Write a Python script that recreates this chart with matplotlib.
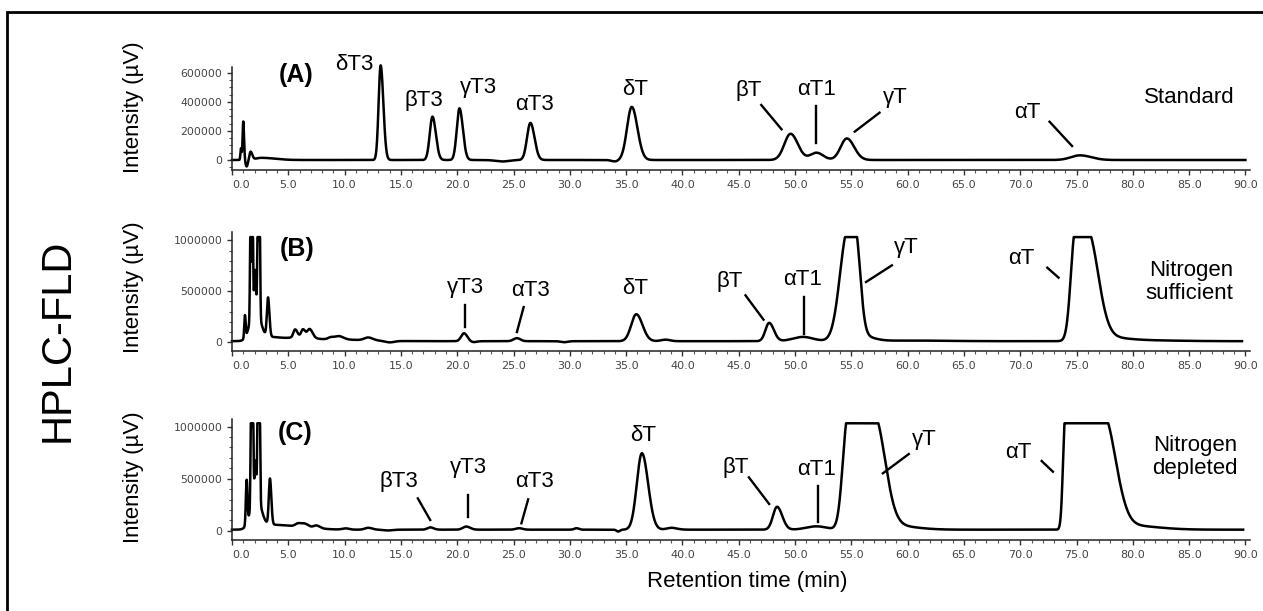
import numpy as np
import matplotlib.pyplot as plt
from matplotlib.patches import Rectangle
from matplotlib.ticker import MultipleLocator, FixedLocator

plt.rcParams['font.family'] = ['Liberation Sans', 'DejaVu Sans']

# ============ Data: peak table per chromatogram ============
# (rt_start, rt_end, height, sigma_left, sigma_right); rt_end > rt_start => flat (saturated) top
peaks_a = [
    (0.8, 0.8, 80000, 0.05, 0.05), (1.0, 1.0, 265000, 0.06, 0.07),
    (1.3, 1.3, -45000, 0.1, 0.1), (1.65, 1.65, 55000, 0.1, 0.15),
    (2.6, 2.6, 15000, 0.5, 1.2), (24.0, 24.0, -10000, 0.6, 0.6),
    (34.0, 34.0, -10000, 0.3, 0.3),
    (13.2, 13.2, 650000, 0.18, 0.24),   # dT3
    (17.8, 17.8, 298000, 0.24, 0.3),    # bT3
    (20.2, 20.2, 355000, 0.24, 0.3),    # gT3
    (26.5, 26.5, 255000, 0.3, 0.36),    # aT3
    (35.5, 35.5, 365000, 0.42, 0.5),    # dT
    (49.6, 49.6, 180000, 0.55, 0.65),   # bT
    (51.9, 51.9, 50000, 0.55, 0.6),     # aT1
    (54.6, 54.6, 148000, 0.55, 0.65),   # gT
    (75.3, 75.3, 32000, 0.8, 1.0),      # aT
]
peaks_b = [
    (1.15, 1.15, 220000, 0.06, 0.06), (2.05, 2.05, 330000, 0.42, 0.42),
    (1.65, 1.65, 1100000, 0.05, 0.05), (1.82, 1.82, 1100000, 0.05, 0.05),
    (2.3, 2.3, 1100000, 0.05, 0.05), (2.45, 2.45, 1100000, 0.05, 0.05),
    (2.05, 2.05, 350000, 0.07, 0.07), (3.2, 3.2, 380000, 0.1, 0.12),
    (3.0, 3.0, 40000, 0.8, 1.5), (5.6, 5.6, 75000, 0.15, 0.2),
    (6.3, 6.3, 70000, 0.15, 0.2), (6.9, 6.9, 80000, 0.2, 0.25),
    (6.3, 6.3, 30000, 0.8, 0.8), (8.8, 8.8, 22000, 0.25, 0.3),
    (9.5, 9.5, 32000, 0.3, 0.4), (12.1, 12.1, 28000, 0.35, 0.4),
    (8.5, 8.5, 18000, 3.0, 3.0), (14.0, 14.0, -15000, 0.4, 0.4),
    (20.6, 20.6, 78000, 0.25, 0.3),     # gT3
    (21.4, 21.4, -10000, 0.3, 0.3),
    (25.3, 25.3, 30000, 0.3, 0.3),      # aT3
    (29.5, 29.5, -10000, 0.3, 0.3),
    (35.9, 35.9, 265000, 0.45, 0.55),   # dT
    (38.5, 38.5, 15000, 0.4, 0.4),
    (47.7, 47.7, 180000, 0.33, 0.42),   # bT
    (50.7, 50.7, 42000, 0.9, 0.9),      # aT1
    (54.7, 55.3, 1100000, 0.7, 0.45),   # gT
    (55.9, 55.9, 50000, 0.5, 1.0),
    (60.5, 60.5, 6000, 3.0, 3.0),
    (74.9, 75.9, 1100000, 0.4, 0.95),   # aT
    (77.0, 77.0, 40000, 0.5, 2.0),
    (81.0, 81.0, 8000, 3.0, 3.0),
]
peaks_c = [
    (1.3, 1.3, 420000, 0.07, 0.07), (2.1, 2.1, 340000, 0.42, 0.42),
    (1.7, 1.7, 1100000, 0.05, 0.05), (1.85, 1.85, 1100000, 0.05, 0.05),
    (2.3, 2.3, 1100000, 0.05, 0.05), (2.45, 2.45, 1100000, 0.05, 0.05),
    (2.08, 2.08, 300000, 0.07, 0.07),
    (3.37, 3.37, 440000, 0.1, 0.12), (3.0, 3.0, 45000, 0.8, 1.5),
    (5.9, 5.9, 30000, 0.25, 0.3), (6.5, 6.5, 28000, 0.25, 0.3),
    (7.5, 7.5, 25000, 0.25, 0.3), (6.0, 6.0, 25000, 1.5, 1.5),
    (10.1, 10.1, 12000, 0.3, 0.3), (12.1, 12.1, 18000, 0.3, 0.35),
    (13.8, 13.8, -8000, 0.4, 0.4),
    (17.6, 17.6, 22000, 0.25, 0.3),     # bT3
    (20.8, 20.8, 30000, 0.3, 0.35),     # gT3
    (25.5, 25.5, 14000, 0.3, 0.3),      # aT3
    (30.6, 30.6, 14000, 0.2, 0.2),
    (34.3, 34.3, -18000, 0.15, 0.15),
    (36.4, 36.4, 735000, 0.45, 0.55),   # dT
    (39.0, 39.0, 18000, 0.4, 0.5),
    (48.4, 48.4, 220000, 0.36, 0.46),   # bT
    (51.9, 51.9, 32000, 0.9, 0.9),      # aT1
    (54.7, 57.0, 1100000, 0.45, 0.95),  # gT
    (58.5, 58.5, 40000, 0.8, 2.0),
    (74.0, 77.4, 1100000, 0.2, 1.05),   # aT
    (79.5, 79.5, 40000, 0.8, 2.5),
]
baseline = [0, 8000, 10000]
run_end = [90.0, 89.7, 89.8]
saturation = [None, 1032000, 1033000]

x_ticks = np.arange(0, 95, 5)
y_ticks = [[0, 200000, 400000, 600000], [0, 500000, 1000000], [0, 500000, 1000000]]
y_limits = [(-68700, 639000), (-88500, 1082000), (-89400, 1074000)]
panel_tags = ['(A)', '(B)', '(C)']
sample_names = ['Standard', 'Nitrogen\nsufficient', 'Nitrogen\ndepleted']

# label text, text position (rt, intensity), leader line ((rt0, y0), (rt1, y1)) or None
labels_a = [
    ('δT3', 10.9, 653000, None),
    ('βT3', 17.0, 412000, None),
    ('γT3', 21.9, 500000, None),
    ('αT3', 26.9, 378000, None),
    ('δT', 35.8, 486000, None),
    ('βT', 45.9, 476000, ((47.0, 378000), (48.8, 211000))),
    ('αT1', 51.9, 486000, ((51.9, 371000), (51.9, 115000))),
    ('γT', 58.9, 431000, ((57.5, 325000), (55.3, 195000))),
    ('αT', 70.6, 325000, ((72.6, 263000), (74.6, 96000))),
]
labels_b = [
    ('γT3', 20.7, 541000, ((20.7, 361000), (20.7, 147000))),
    ('αT3', 26.5, 508000, ((25.9, 344000), (25.3, 98000))),
    ('δT', 35.8, 525000, None),
    ('βT', 44.2, 600000, ((45.6, 459000), (47.2, 220000))),
    ('αT1', 50.7, 613000, ((50.8, 442000), (50.8, 82000))),
    ('γT', 59.9, 934000, ((58.6, 754000), (56.3, 590000))),
    ('αT', 70.1, 820000, ((72.4, 731000), (73.4, 633000))),
]
labels_c = [
    ('βT3', 14.8, 471000, ((16.5, 311000), (17.6, 103000))),
    ('γT3', 21.0, 610000, ((21.0, 343000), (21.0, 135000))),
    ('αT3', 26.9, 471000, ((26.3, 302000), (25.7, 71000))),
    ('δT', 36.5, 920000, None),
    ('βT', 44.7, 610000, ((45.9, 513000), (47.7, 257000))),
    ('αT1', 51.9, 590000, ((52.0, 430000), (52.0, 87000))),
    ('γT', 61.5, 879000, ((60.1, 737000), (57.8, 552000))),
    ('αT', 69.8, 750000, ((71.9, 670000), (72.9, 567000))),
]


def peak_shape(t, a, b, h, sl, sr):
    y = np.full_like(t, h, dtype=float)
    left = t < a
    right = t > b
    y[left] = h * np.exp(-(t[left] - a) ** 2 / (2 * sl ** 2))
    y[right] = h * np.exp(-(t[right] - b) ** 2 / (2 * sr ** 2))
    return y


def chromatogram(peaks, base, t_end, sat):
    t = np.arange(0, t_end, 0.01)
    y = np.full_like(t, float(base))
    for p in peaks:
        y += peak_shape(t, *p)
    if sat is not None:
        y = np.minimum(y, sat)
    return t, y


# ============ Figure ============
W, H = 1263, 611
fig = plt.figure(figsize=(W / 100, H / 100), dpi=100)

# outer frame (only top/left edges fall inside the picture)
fig.patches.append(Rectangle((7 / W, -0.05), 1.2, 1 - 12 / H + 0.05, transform=fig.transFigure,
                             fill=False, lw=2.0, edgecolor='black'))

ax_px = [(67, 170), (232, 351), (419, 540)]   # (top, bottom) in pixels
all_peaks = [peaks_a, peaks_b, peaks_c]
all_labels = [labels_a, labels_b, labels_c]
tag_pos = [(5.66, 584000), (5.75, 918000), (5.6, 936000)]
name_pos = [(89.0, 431000), (88.9, 590000), (89.3, 706000)]
ylabel_y = [107, 287, 477]
minor_y = [50000, 100000, 100000]

for i in range(3):
    top, bot = ax_px[i]
    ax = fig.add_axes([232 / W, (H - bot) / H, (1250 - 232) / W, (bot - top) / H])
    t, y = chromatogram(all_peaks[i], baseline[i], run_end[i], saturation[i])
    ax.plot(t, y, color='black', lw=1.8, clip_on=False)

    ax.set_xlim(0, 90.4)
    ax.set_ylim(*y_limits[i])
    for s in ['top', 'right']:
        ax.spines[s].set_visible(False)
    for s in ['left', 'bottom']:
        ax.spines[s].set_linewidth(1.1)
        ax.spines[s].set_color('#222222')
    ax.xaxis.set_major_locator(FixedLocator(x_ticks))
    ax.xaxis.set_minor_locator(MultipleLocator(1))
    ax.set_xticklabels([f'{v:.1f}' for v in x_ticks])
    ax.get_xticklabels()[0].set_horizontalalignment('left')
    ax.yaxis.set_major_locator(FixedLocator(y_ticks[i]))
    ax.yaxis.set_minor_locator(MultipleLocator(minor_y[i]))
    ax.set_yticklabels([str(v) for v in y_ticks[i]])
    ax.tick_params(axis='both', which='major', length=3.5, width=1, color='#333333',
                   labelcolor='#444444', pad=3.5)
    ax.tick_params(axis='both', which='minor', length=2, width=0.8, color='#555555')
    for lab in ax.get_xticklabels():
        lab.set_fontfamily('DejaVu Sans')
        lab.set_fontsize(8)
    for lab in ax.get_yticklabels():
        lab.set_fontfamily('DejaVu Sans')
        lab.set_fontsize(7.8)
    ax.patch.set_alpha(0)

    for text, tx, ty, line in all_labels[i]:
        ax.text(tx, ty, text, fontsize=16, ha='center', va='center', clip_on=False)
        if line is not None:
            (x0, y0), (x1, y1) = line
            ax.plot([x0, x1], [y0, y1], color='black', lw=1.7, clip_on=False)

    ax.text(tag_pos[i][0], tag_pos[i][1], panel_tags[i], fontsize=18, fontweight='bold',
            ha='center', va='center')
    ax.text(name_pos[i][0], name_pos[i][1], sample_names[i], fontsize=16, ha='right',
            va='center', linespacing=1.15)

    fig.text(133 / W, 1 - ylabel_y[i] / H, 'Intensity (µV)', rotation=90, fontsize=16,
             ha='center', va='center')

fig.text(58 / W, 1 - 340 / H, 'HPLC-FLD', rotation=90, fontsize=30, ha='center', va='center')
fig.text(747 / W, 1 - 582 / H, 'Retention time (min)', fontsize=16, ha='center', va='center')

fig.savefig('out.png', dpi=100)
